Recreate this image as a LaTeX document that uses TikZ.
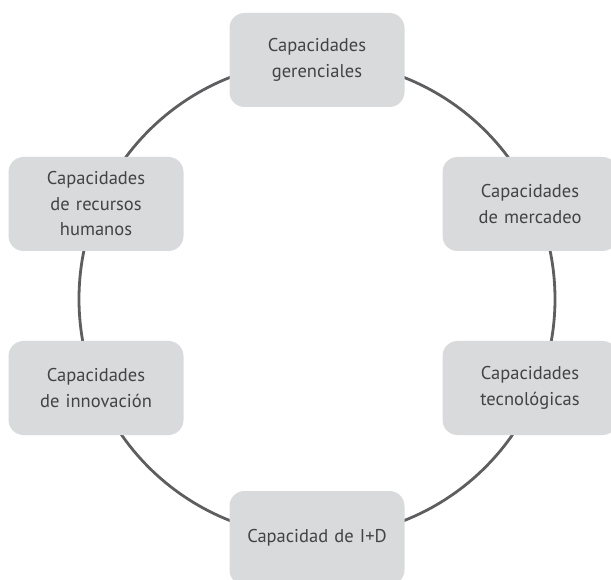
\documentclass[tikz,border=0pt]{standalone}
\usepackage{fontspec}
\setmainfont{PT Sans}
\usepackage{tikz}
\definecolor{ringgray}{HTML}{5E5E60}
\definecolor{boxgray}{HTML}{D9DADC}
\definecolor{textgray}{HTML}{434346}

\begin{document}
\begin{tikzpicture}[x=1pt,y=-1pt,font=\fontsize{18.5}{25.5}\selectfont]

\tikzset{
capbox/.style={
    fill=boxgray,
    rounded corners=15pt,
    minimum width=175pt,
    minimum height=94pt,
    text width=165pt,
    align=center,
    text=textgray
},
ring/.style={line width=2.8pt,color=ringgray}
}

\useasboundingbox (0,0) rectangle (611,580);

\draw[ring] (317,299) circle[radius=238];

\node[capbox] (gerenciales) at (317,60) {Capacidades\\gerenciales};
\node[capbox] (humanos) at (96,204) {Capacidades\\de recursos\\humanos};
\node[capbox] (mercadeo) at (530,204) {Capacidades\\de mercadeo};
\node[capbox] (innovacion) at (96,388) {Capacidades\\de innovación};
\node[capbox] (tecnologicas) at (530,388) {Capacidades\\tecnológicas};
\node[capbox] (id) at (317,538) {Capacidad de I+D};

\end{tikzpicture}
\end{document}
